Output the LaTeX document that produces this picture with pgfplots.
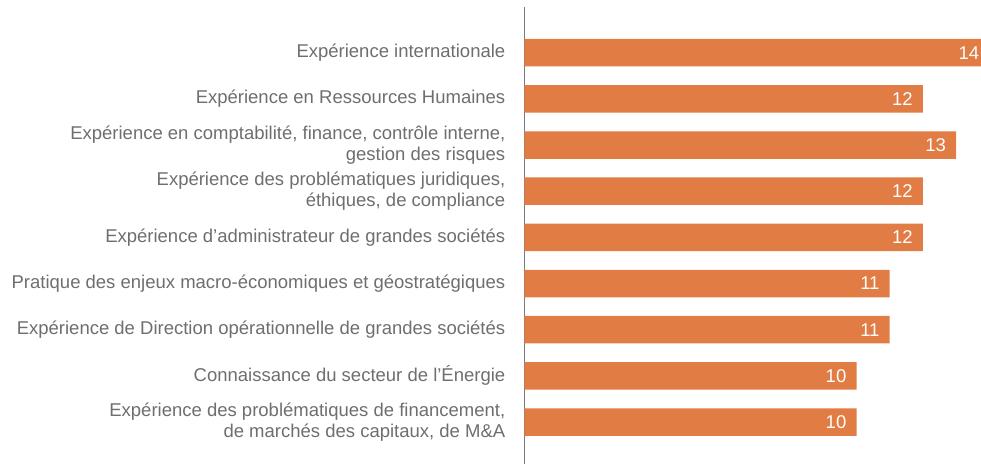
\documentclass[border=0pt]{standalone}
\usepackage{pgfplots}
\pgfplotsset{compat=1.18}
\usepackage{fontspec}
\setmainfont{Liberation Sans}
\definecolor{barc}{HTML}{E07C44}
\definecolor{txt}{HTML}{6E6E6E}
\definecolor{axc}{HTML}{7A7A7A}
\begin{document}
\begin{tikzpicture}
\begin{axis}[
 at={(0,0)}, anchor=south west,
 scale only axis, width=464.8pt, height=457pt,
 xbar, bar width=27.5pt,
 xmin=0, xmax=14,
 ymin=-0.99, ymax=8.91, y dir=reverse,
 axis x line=none, axis y line*=left,
 y axis line style={-, draw=axc, line width=1.6pt},
 ytick={0,...,8}, major tick length=0pt,
 yticklabels={
  {Expérience internationale},
  {Expérience en Ressources Humaines},
  {Expérience en comptabilité, finance, contrôle interne,\\gestion des risques},
  {Expérience des problématiques juridiques,\\éthiques, de compliance},
  {Expérience d’administrateur de grandes sociétés},
  {Pratique des enjeux macro-économiques et géostratégiques},
  {Expérience de Direction opérationnelle de grandes sociétés},
  {Connaissance du secteur de l’Énergie},
  {Expérience des problématiques de financement,\\de marchés des capitaux, de M\&A}},
 yticklabel style={align=right, font=\fontsize{18.5}{20.5}\selectfont, text=txt, inner sep=0pt, xshift=-19pt},
 /pgf/number format/assume math mode=true,
 nodes near coords,
 every node near coord/.append style={anchor=east, xshift=-10pt, text=white, font=\fontsize{18.5}{20.5}\selectfont, inner sep=0pt},
 clip=false,
]
\addplot[fill=barc, draw=none] coordinates {(14,0) (12,1) (13,2) (12,3) (12,4) (11,5) (11,6) (10,7) (10,8)};
\end{axis}
\pgfresetboundingbox
\path (-524.5pt,0) rectangle (456.5pt,464pt);
\end{tikzpicture}
\end{document}
